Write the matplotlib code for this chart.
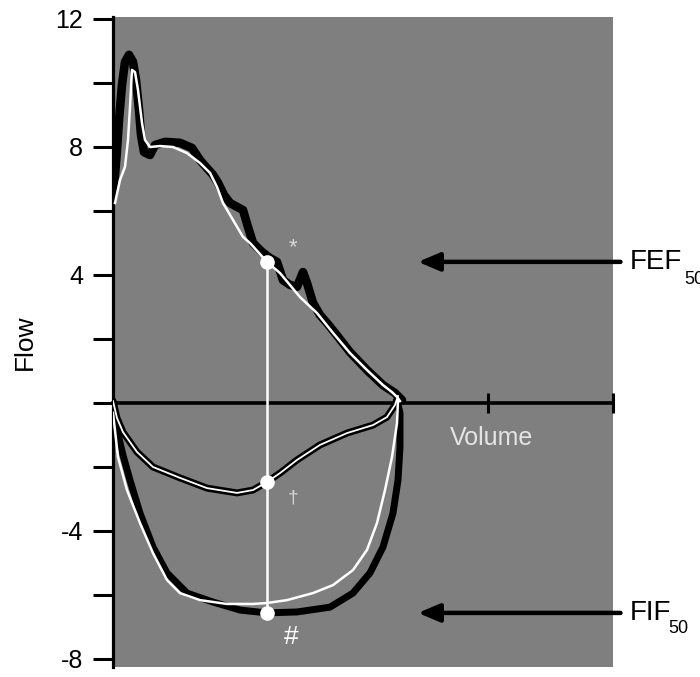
import matplotlib
matplotlib.use('Agg')
import matplotlib.pyplot as plt

# Expiratory limb, thick black trace
exp_black_vol = [0, 0.016, 0.032, 0.048, 0.072, 0.096, 0.128, 0.16, 0.184, 0.208, 0.224, 0.248,
                 0.296, 0.336, 0.416, 0.536, 0.632, 0.696, 0.752, 0.8, 0.84, 0.888, 0.936, 0.992,
                 1.04, 1.08, 1.12, 1.192, 1.256, 1.312, 1.36, 1.416, 1.472, 1.52, 1.552, 1.6,
                 1.656, 1.712, 1.776, 1.896, 2.032, 2.16, 2.256, 2.312]
exp_black_flow = [6.5, 7.13, 7.9, 8.84, 9.94, 10.66, 10.88, 10.66, 10.09, 9.16, 8.38, 7.84,
                  7.75, 8.06, 8.16, 8.13, 7.97, 7.59, 7.34, 7.13, 6.88, 6.5, 6.25, 6.13,
                  6.03, 5.5, 5.0, 4.72, 4.53, 4.41, 3.84, 3.69, 3.63, 4.09, 3.75, 3.13,
                  2.75, 2.5, 2.19, 1.59, 1.03, 0.56, 0.31, 0.09]

# Expiratory limb, thin white trace
exp_white_vol = [0.016, 0.056, 0.096, 0.12, 0.136, 0.152, 0.176, 0.2, 0.232, 0.256, 0.296, 0.376,
                 0.48, 0.592, 0.696, 0.776, 0.832, 0.88, 0.96, 1.04, 1.096, 1.232, 1.336, 1.496,
                 1.632, 1.76, 1.896, 2.032, 2.16, 2.232, 2.272, 2.296]
exp_white_flow = [6.25, 6.97, 7.38, 8.22, 9.25, 10.41, 10.34, 9.78, 8.75, 8.22, 8.0, 8.03,
                  8.0, 7.81, 7.5, 7.19, 6.75, 6.25, 5.72, 5.19, 5.0, 4.41, 4.06, 3.31,
                  2.81, 2.19, 1.56, 1.03, 0.56, 0.34, 0.19, 0.06]

# Shallow inspiratory limb (outlined white)
insp_small_vol = [0, 0.032, 0.08, 0.192, 0.32, 0.536, 0.752, 0.992, 1.12, 1.232, 1.336, 1.472,
                  1.656, 1.872, 2.08, 2.192, 2.256, 2.28]
insp_small_flow = [0.06, -0.47, -0.91, -1.53, -2.0, -2.34, -2.66, -2.81, -2.72, -2.47, -2.19, -1.78,
                   -1.31, -0.94, -0.69, -0.44, -0.06, 0.22]

# Deep inspiratory limb, thick black trace
insp_black_vol = [0, 0.032, 0.08, 0.136, 0.216, 0.32, 0.432, 0.592, 0.8, 1.016, 1.232, 1.472,
                  1.736, 1.92, 2.056, 2.16, 2.24, 2.28, 2.296, 2.296, 2.272]
insp_black_flow = [0.06, -0.84, -1.63, -2.41, -3.44, -4.5, -5.31, -5.94, -6.22, -6.47, -6.56, -6.53,
                   -6.38, -5.94, -5.31, -4.5, -3.44, -2.41, -1.38, -0.31, 0.09]

# Deep inspiratory limb, thin white trace
insp_white_vol = [0, 0.04, 0.112, 0.216, 0.32, 0.432, 0.536, 0.696, 0.912, 1.12, 1.232, 1.392,
                  1.6, 1.76, 1.92, 2.032, 2.112, 2.176, 2.232, 2.272, 2.28]
insp_white_flow = [-0.31, -1.69, -2.72, -3.75, -4.69, -5.53, -5.94, -6.16, -6.28, -6.28, -6.25, -6.16,
                   -5.94, -5.69, -5.22, -4.59, -3.75, -2.72, -1.69, -0.63, 0.09]

# 50% volume points
v50 = 1.232
fef50 = 4.41
mid50 = -2.47
fif50 = -6.56

ytick_major = [12, 8, 4, -4, -8]
ytick_minor = [10, 6, 2, 0, -2, -6]
xtick_major = [3, 4]

plt.rcParams['font.family'] = ['Liberation Sans', 'DejaVu Sans']
plt.rcParams['axes.unicode_minus'] = False

fig = plt.figure(figsize=(7.0, 6.77), dpi=100)
ax = fig.add_axes([113 / 700, 10 / 677, 500 / 700, 649.6 / 677])
ax.set_facecolor('#7f7f7f')
ax.set_xlim(0, 4.0)
ax.set_ylim(-8.25, 12.05)

# Traces
ax.plot(exp_black_vol, exp_black_flow, color='black', lw=6.2, solid_capstyle='round',
        solid_joinstyle='round', zorder=3)
ax.plot(exp_white_vol, exp_white_flow, color='white', lw=1.8, solid_joinstyle='round', zorder=4)
ax.plot(insp_black_vol, insp_black_flow, color='black', lw=5.0, solid_capstyle='round',
        solid_joinstyle='round', zorder=3)
ax.plot(insp_white_vol, insp_white_flow, color='white', lw=1.8, solid_joinstyle='round', zorder=4)
ax.plot(insp_small_vol, insp_small_flow, color='black', lw=5.0, solid_capstyle='round',
        solid_joinstyle='round', zorder=3)
ax.plot(insp_small_vol, insp_small_flow, color='white', lw=1.3, solid_joinstyle='round', zorder=4)

# Vertical line at 50% volume with points
ax.plot([v50, v50], [fef50, fif50], color='white', lw=1.8, zorder=5)
ax.plot([v50] * 3, [fef50, mid50, fif50], 'o', color='white', ms=9.5, mec='white', zorder=6)

# Symbols
ax.text(v50 + 0.21, fef50 + 0.45, '*', color='#d8d8d8', fontsize=16, ha='center', va='center')
ax.text(v50 + 0.21, mid50 - 0.5, '\u2020', color='#d8d8d8', fontsize=14, ha='center', va='center')
ax.text(v50 + 0.19, fif50 - 0.75, '#', color='white', fontsize=19, ha='center', va='center')

# Spines and ticks
for side in ['top', 'right']:
    ax.spines[side].set_visible(False)
ax.spines['left'].set_linewidth(2.3)
ax.spines['bottom'].set_position(('data', 0))
ax.spines['bottom'].set_linewidth(2.6)
ax.spines['bottom'].set_zorder(2)

ax.set_yticks(ytick_major)
ax.set_yticklabels([str(v) for v in ytick_major])
ax.set_yticks(ytick_minor, minor=True)
ax.tick_params(axis='y', which='both', direction='out', length=14.5, width=2.2, color='black')
ax.tick_params(axis='y', which='major', labelsize=18, pad=7)
ax.set_xticks(xtick_major)
ax.set_xticklabels([])
ax.tick_params(axis='x', which='major', direction='inout', length=14.5, width=2.2)

ax.text(3.03, -1.1, 'Volume', color='#e4e4e4', fontsize=18, ha='center', va='center')
fig.text(25 / 700, 1 - 342 / 677, 'Flow', rotation=90, fontsize=19, ha='center', va='center')

# Arrows pointing to FEF50 / FIF50 levels
for yv in [fef50, fif50]:
    ax.annotate('', xy=(2.44, yv), xytext=(4.06, yv), annotation_clip=False,
                arrowprops=dict(arrowstyle='-|>,head_length=1.3,head_width=0.55',
                                color='black', lw=3.2, shrinkA=0, shrinkB=0))

# Labels; the FEF subscript runs off the right edge as in the original
ax.text(4.13, fef50, 'FEF', fontsize=20, ha='left', va='center', clip_on=False)
ax.text(4.57, fef50 - 0.55, '50', fontsize=13, ha='left', va='center', clip_on=False)
ax.text(4.13, fif50, 'FIF', fontsize=20, ha='left', va='center', clip_on=False)
ax.text(4.44, fif50 - 0.5, '50', fontsize=13, ha='left', va='center', clip_on=False)

fig.savefig('out.png', dpi=100, facecolor='white')
